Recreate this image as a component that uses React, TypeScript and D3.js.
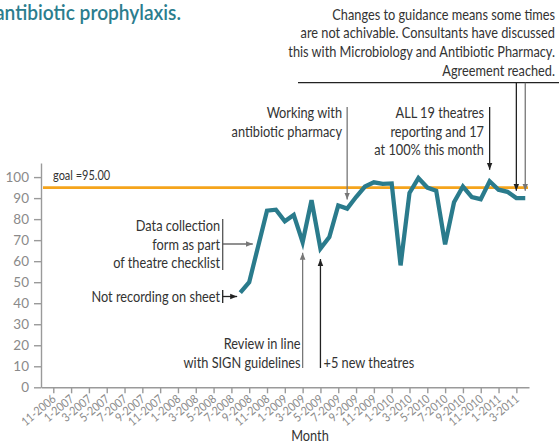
import React, { useEffect, useRef } from 'react'
import * as d3 from 'd3'

// month labels on the x axis (every second month)
const tickLabels = [
  '11-2006', '1-2007', '3-2007', '5-2007', '7-2007', '9-2007', '11-2007',
  '1-2008', '3-2008', '5-2008', '7-2008', '9-2008', '11-2008',
  '1-2009', '3-2009', '5-2009', '7-2009', '9-2009', '11-2009',
  '1-2010', '3-2010', '5-2010', '7-2010', '9-2010', '11-2010',
  '1-2011', '3-2011',
]

const months = [
  '8-2008', '9-2008', '10-2008', '11-2008', '12-2008',
  '1-2009', '2-2009', '3-2009', '4-2009', '5-2009', '6-2009', '7-2009', '8-2009',
  '9-2009', '10-2009', '11-2009', '12-2009',
  '1-2010', '2-2010', '3-2010', '4-2010', '5-2010', '6-2010', '7-2010', '8-2010',
  '9-2010', '10-2010', '11-2010', '12-2010',
  '1-2011', '2-2011', '3-2011', '4-2011',
]
const values = [
  45, 50, 67, 84, 84.5,
  79, 82, 69, 89, 66, 71.5, 86.5, 85,
  90.5, 95.5, 97.5, 96.8,
  97, 58, 92.5, 99.5, 95, 93.5, 68, 88,
  95.5, 90.5, 89.5, 98,
  94, 93, 90, 90,
]
const yTicks = [0, 10, 20, 30, 40, 50, 60, 70, 80, 90, 100]
const goal = 95

const title = 'antibiotic prophylaxis.'
const topNote = [
  'Changes to guidance means some times',
  'are not achivable. Consultants have discussed',
  'this with Microbiology and Antibiotic Pharmacy.',
  'Agreement reached.',
]

const monthIdx = (s: string) => {
  const [m, y] = s.split('-').map(Number)
  return (y - 2006) * 12 + (m - 11)
}

const FONT = "Lato, 'Noto Sans', sans-serif"
const SQ = 0.88 // horizontal squeeze to mimic the condensed face

export default function App() {
  const svgRef = useRef<SVGSVGElement>(null)

  useEffect(() => {
    const width = 559
    const svg = d3.select(svgRef.current!)
    svg.selectAll('*').remove()
    svg.style('font-family', FONT)

    const x = d3.scaleLinear().domain([-1.38, 53.42]).range([41, 529])
    const y = d3.scaleLinear().domain([0, 106.7]).range([387.3, 163])

    const defs = svg.append('defs')
    const mk = (id: string, col: string) =>
      defs.append('marker').attr('id', id).attr('viewBox', '0 0 10 10')
        .attr('refX', 10).attr('refY', 5).attr('markerWidth', 7).attr('markerHeight', 7)
        .attr('markerUnits', 'userSpaceOnUse').attr('orient', 'auto')
        .append('path').attr('d', 'M0,1L10,5L0,9Z').attr('fill', col)
    mk('arD', '#222')
    mk('arG', '#777')

    const label = (s: string, tx: number, ty: number, size: number, anchor = 'end', col = '#333') =>
      svg.append('text').attr('transform', `translate(${tx},${ty}) scale(${SQ},1)`)
        .attr('text-anchor', anchor).attr('fill', col).attr('font-size', size).text(s)

    // title (partly off the left edge as in the source)
    svg.append('text').attr('x', 181).attr('y', 20).attr('text-anchor', 'end')
      .attr('fill', '#2b7d8e').attr('font-size', 21).attr('font-weight', 600)
      .attr('textLength', 186).attr('lengthAdjust', 'spacingAndGlyphs').text(title)

    // y axis
    const ya = svg.append('g').attr('transform', 'translate(41,0)')
      .call(d3.axisLeft(y).tickValues(yTicks).tickSize(7).tickSizeOuter(0).tickPadding(5))
    ya.selectAll('line,path').attr('stroke', '#9a9a9a').attr('stroke-width', 1.4)
    ya.selectAll('text').attr('fill', '#8a8a8a').attr('font-size', 13.5).attr('font-family', FONT)

    // x axis
    const xa = svg.append('g').attr('transform', 'translate(0,387.3)')
      .call(d3.axisBottom(x).tickValues(tickLabels.map(monthIdx))
        .tickFormat((d, i) => tickLabels[i]).tickSize(6).tickSizeOuter(0))
    xa.selectAll('line,path').attr('stroke', '#9a9a9a').attr('stroke-width', 1.4)
    xa.selectAll('text').attr('fill', '#8a8a8a').attr('font-size', 12).attr('font-family', FONT)
      .attr('text-anchor', 'end').attr('dy', 0).attr('y', 0)
      .attr('transform', `translate(3,13) rotate(-40) scale(${SQ},1)`)

    label('Month', 310, 441, 14.5, 'middle')

    // goal
    svg.append('line').attr('x1', 43).attr('x2', 528).attr('y1', y(goal)).attr('y2', y(goal))
      .attr('stroke', '#f5a41c').attr('stroke-width', 2.8)
    label(`goal =${goal.toFixed(2)}`, 53, 180, 12.5, 'start')

    // series
    const pts = months.map((m, i) => [monthIdx(m), values[i]] as [number, number])
    svg.append('path').datum(pts)
      .attr('d', d3.line<[number, number]>().x(d => x(d[0])).y(d => y(d[1])))
      .attr('fill', 'none').attr('stroke', '#2a7b8c').attr('stroke-width', 4.3)
      .attr('stroke-linejoin', 'miter')

    const txt = (lines: string[], tx: number, by: number, anchor = 'end') =>
      lines.forEach((l, i) => label(l, tx, by + i * 18.7, 14.5, anchor))
    const seg = (x1: number, y1: number, x2: number, y2: number, col: string, arrow?: string) => {
      const l = svg.append('line').attr('x1', x1).attr('y1', y1).attr('x2', x2).attr('y2', y2)
        .attr('stroke', col).attr('stroke-width', 1.3)
      if (arrow) l.attr('marker-end', `url(#${arrow})`)
    }

    // top note
    txt(topNote, 555, 19.5)
    seg(298, 82.7, width, 82.7, '#222')
    seg(x(monthIdx('3-2011')), 82.7, x(monthIdx('3-2011')), y(93.5), '#222', 'arD')
    seg(x(monthIdx('4-2011')), 82.7, x(monthIdx('4-2011')), y(93.5), '#777', 'arG')

    // working with antibiotic pharmacy
    txt(['Working with', 'antibiotic pharmacy'], 342, 118)
    seg(x(monthIdx('8-2009')), 107, x(monthIdx('8-2009')), y(89.3), '#777', 'arG')

    // ALL 19 theatres
    txt(['ALL 19 theatres', 'reporting and 17', 'at 100% this month'], 484, 118)
    seg(x(monthIdx('12-2010')), 107, x(monthIdx('12-2010')), y(103.5), '#222', 'arD')

    // data collection
    txt(['Data collection', 'form as part', 'of theatre checklist'], 220, 231)
    seg(222.7, 219, 222.7, 270, '#555')
    seg(222.7, 244, x(22.4), 244, '#555', 'arG')

    // not recording
    txt(['Not recording on sheet'], 220, 301.5)
    seg(222.7, 290, 222.7, 303, '#222')
    seg(222.7, 296.5, x(20.65), 296.5, '#222', 'arD')

    // review in line
    txt(['Review in line', 'with SIGN guidelines'], 300.5, 349)
    seg(x(monthIdx('3-2009')), 368, x(monthIdx('3-2009')), y(64), '#777', 'arG')

    // +5 new theatres
    txt(['+5 new theatres'], 323.5, 368, 'start')
    seg(x(monthIdx('5-2009')), 368, x(monthIdx('5-2009')), y(61), '#222', 'arD')
  }, [])

  return (
    <svg ref={svgRef} width={559} height={445}
      style={{ position: 'absolute', left: 0, top: 0, background: '#fff' }} />
  )
}
